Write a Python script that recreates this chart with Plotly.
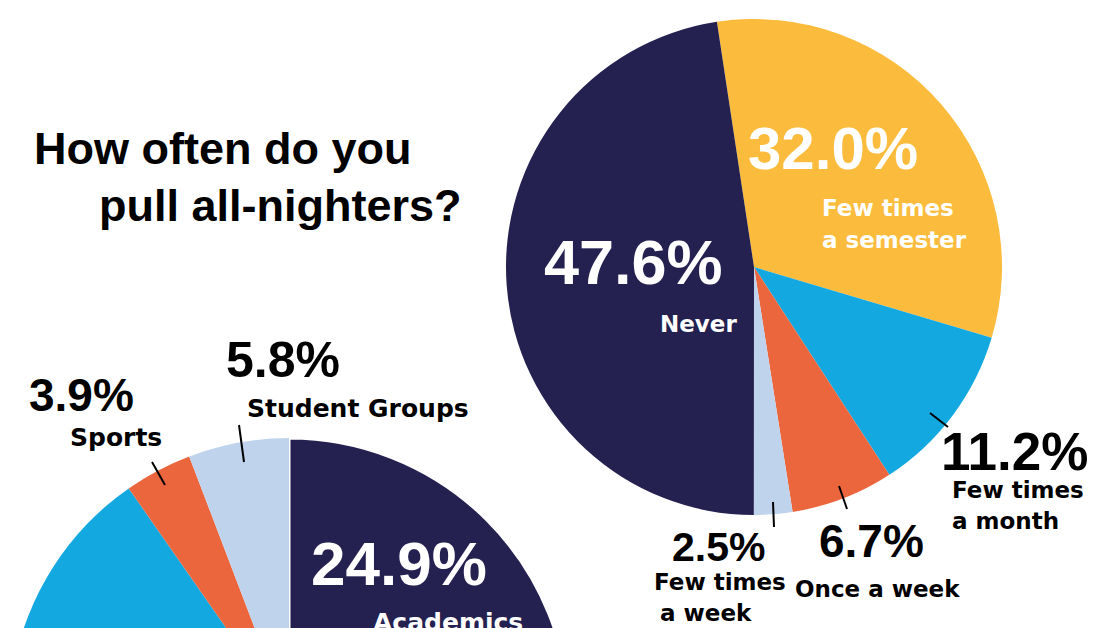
import plotly.graph_objects as go

W, H = 1096, 1000  # figure is taller than the 628px window; page is clipped to 628

# ---- data: top pie (How often do you pull all-nighters?) ----
freq_labels = ["Few times a semester", "Few times a month", "Once a week", "Few times a week", "Never"]
freq_values = [32.0, 11.2, 6.7, 2.5, 47.6]
freq_colors = ["#FBBC3D", "#14A8E0", "#EB663D", "#BFD3EC", "#242150"]

# ---- data: bottom pie (reasons; only the top part is visible) ----
why_labels = ["Academics", "Other", "Social", "Sports", "Student Groups"]
why_values = [24.9, 40.4, 25.0, 3.9, 5.8]
why_colors = ["#242150", "#FBBC3D", "#14A8E0", "#EB663D", "#BFD3EC"]

NUM_FONT = "Liberation Sans, Arial, sans-serif"
LAB_FONT = "DejaVu Sans, Verdana, sans-serif"


def px(x):
    return x / W


def py(y):
    return 1 - y / H


fig = go.Figure()
fig.add_trace(go.Pie(
    labels=freq_labels, values=freq_values, sort=False, direction="clockwise",
    rotation=-8.6, marker=dict(colors=freq_colors, line=dict(width=0)),
    textinfo="none", hoverinfo="label+percent", showlegend=False,
    domain=dict(x=[px(506), px(1002)], y=[py(515), py(19)]),
))
fig.add_trace(go.Pie(
    labels=why_labels, values=why_values, sort=False, direction="clockwise",
    rotation=0, marker=dict(colors=why_colors, line=dict(color="white", width=[3, 0, 0, 0, 0])),
    textinfo="none", hoverinfo="label+percent", showlegend=False,
    domain=dict(x=[px(9), px(569)], y=[py(998), py(438)]),
))

annots = []


def txt(s, x, y, size, color="black", font=NUM_FONT, anchor="center"):
    annots.append(dict(text=s, x=px(x), y=py(y), xref="paper", yref="paper",
                       xanchor=anchor, yanchor="middle", showarrow=False,
                       font=dict(family=font, size=size, color=color, weight="bold")))


# title
txt("How often do you", 32, 148.5, 45, anchor="left")
txt("pull all-nighters?", 97, 206, 45, anchor="left")

# top pie labels
txt(f"{freq_values[0]:.1f}%", 832.5, 148.5, 60, color="white")
txt("Few times", 820, 208, 23, color="white", font=LAB_FONT, anchor="left")
txt("a semester", 820, 240, 23, color="white", font=LAB_FONT, anchor="left")
txt(f"{freq_values[4]:.1f}%", 633.5, 262, 63, color="white")
txt("Never", 698, 324, 23, color="white", font=LAB_FONT)
txt(f"{freq_values[1]:.1f}%", 1014.5, 452, 53)
txt("Few times", 950, 490, 23, font=LAB_FONT, anchor="left")
txt("a month", 950, 520.5, 23, font=LAB_FONT, anchor="left")
txt(f"{freq_values[2]:.1f}%", 871.5, 540.5, 46)
txt("Once a week", 793, 588.5, 23, font=LAB_FONT, anchor="left")
txt(f"{freq_values[3]:.1f}%", 718.5, 547, 41)
txt("Few times", 652, 582, 23, font=LAB_FONT, anchor="left")
txt("a week", 658, 613, 23, font=LAB_FONT, anchor="left")

# bottom pie labels
txt(f"{why_values[4]:.1f}%", 283, 360, 50)
txt("Student Groups", 245, 408.5, 25, font=LAB_FONT, anchor="left")
txt(f"{why_values[3]:.1f}%", 81.5, 395, 46)
txt("Sports", 68, 438, 25, font=LAB_FONT, anchor="left")
txt(f"{why_values[0]:.1f}%", 398.5, 563.5, 62, color="white")
txt("Academics", 448, 622, 25, color="white", font=LAB_FONT)

# leader lines
leaders = [((930, 413), (948, 427)), ((839, 486), (847, 509)), ((773, 502), (774, 527)),
           ((152, 462), (165, 485)), ((239, 425), (244, 462))]
shapes = [dict(type="line", xref="paper", yref="paper", x0=px(a[0]), y0=py(a[1]),
               x1=px(b[0]), y1=py(b[1]), line=dict(color="black", width=2))
          for a, b in leaders]

fig.update_layout(width=W, height=H, margin=dict(l=0, r=0, t=0, b=0),
                  paper_bgcolor="white", plot_bgcolor="white",
                  annotations=annots, shapes=shapes, showlegend=False)

post = ("var gd=document.getElementById('{plot_id}');var p=gd.parentElement;"
        "p.style.height='628px';p.style.overflow='hidden';"
        "document.body.style.margin='0';document.body.style.overflow='hidden';"
        "document.documentElement.style.overflow='hidden';")
fig.write_html("out.html", post_script=post, config={"displayModeBar": False})
